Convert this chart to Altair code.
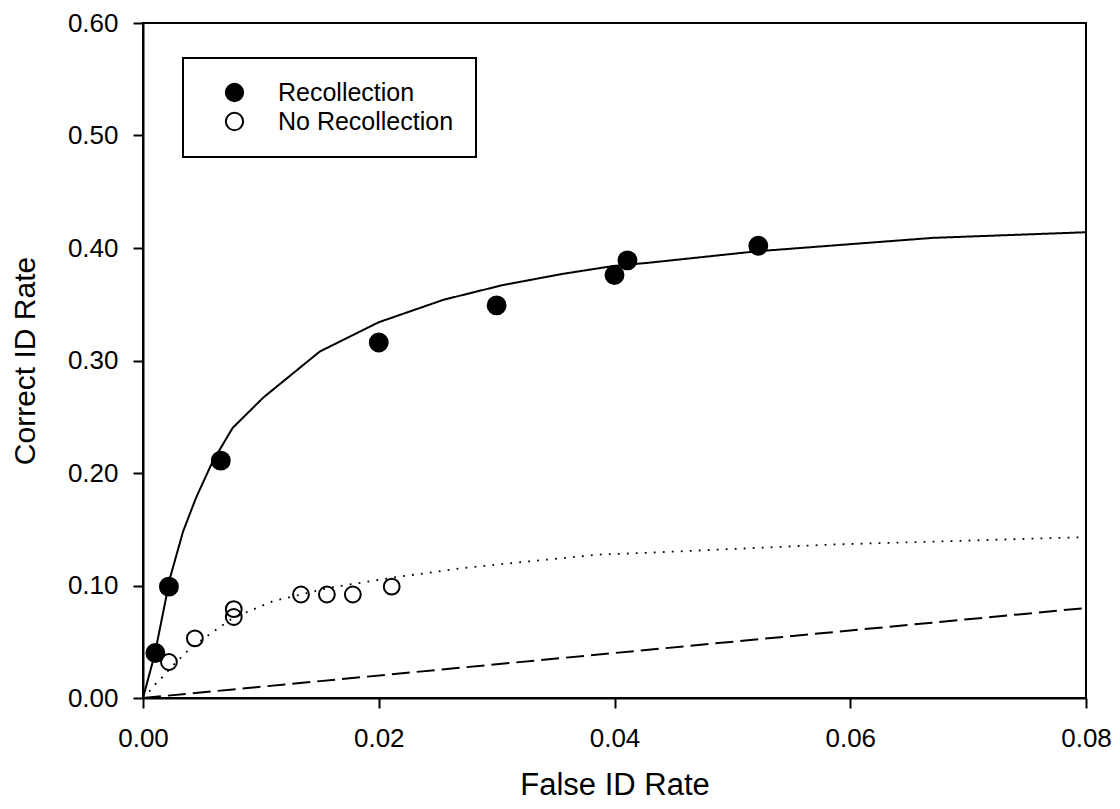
import altair as alt
import pandas as pd

# Observed points
rec_x = [0.00105, 0.0022, 0.0066, 0.0200, 0.0300, 0.0400, 0.0411, 0.0522]
rec_y = [0.040, 0.099, 0.211, 0.316, 0.349, 0.376, 0.389, 0.402]
norec_x = [0.0022, 0.0044, 0.0077, 0.0077, 0.0134, 0.0156, 0.0178, 0.0211]
norec_y = [0.032, 0.053, 0.072, 0.079, 0.092, 0.092, 0.092, 0.099]

# Fitted curves
fit_rec_x = [0, 0.001, 0.0023, 0.0034, 0.0045, 0.0059, 0.0076, 0.0102, 0.015,
             0.020, 0.0255, 0.0305, 0.0356, 0.0399, 0.043, 0.052, 0.067, 0.080]
fit_rec_y = [0, 0.039, 0.107, 0.148, 0.178, 0.210, 0.240, 0.267, 0.308,
             0.334, 0.354, 0.367, 0.377, 0.384, 0.387, 0.397, 0.409, 0.414]
fit_no_x = [0, 0.0006, 0.0011, 0.0018, 0.0024, 0.0037, 0.0045, 0.0076, 0.011,
            0.0158, 0.0212, 0.0271, 0.0328, 0.0387, 0.0426, 0.0585, 0.080]
fit_no_y = [0, 0.0065, 0.013, 0.020, 0.0275, 0.041, 0.048, 0.071, 0.086,
            0.098, 0.107, 0.1155, 0.1215, 0.1275, 0.129, 0.1364, 0.143]
chance_x = [0, 0.08]
chance_y = [0, 0.08]

series_names = ["Recollection", "No Recollection"]
x_ticks = [0, 0.02, 0.04, 0.06, 0.08]
y_ticks = [0, 0.1, 0.2, 0.3, 0.4, 0.5, 0.6]

FONT = "Liberation Sans"

rec_df = pd.DataFrame({"x": rec_x, "y": rec_y, "series": series_names[0]})
norec_df = pd.DataFrame({"x": norec_x, "y": norec_y, "series": series_names[1]})

xs = alt.Scale(domain=[0, 0.08], nice=False, zero=False)
ys = alt.Scale(domain=[0, 0.6], nice=False, zero=False)

xaxis = alt.Axis(values=x_ticks, format=".2f", title="False ID Rate",
                 labelPadding=17, titleFontSize=31, titleX=471.5, titleY=96,
                 titleBaseline="alphabetic", labelFlush=False)
yaxis = alt.Axis(values=y_ticks, format=".2f", title="Correct ID Rate",
                 labelPadding=15, titleFontSize=30, titleX=-108.5, titleY=337.5,
                 titleBaseline="alphabetic", titleAngle=270, labelFlush=False)

fill_enc = alt.Fill(
    "series:N",
    scale=alt.Scale(domain=series_names, range=["black", "transparent"]),
    legend=alt.Legend(title=None, orient="none", legendX=40, legendY=35,
                      symbolType="circle", symbolSize=300,
                      symbolStrokeColor="black", symbolStrokeWidth=2,
                      labelFontSize=25, labelFont=FONT, labelColor="black",
                      labelLimit=400, labelOffset=31, symbolOffset=17, padding=22,
                      strokeColor="black", rowPadding=2),
)


def line_layer(xv, yv, dash, width):
    df = pd.DataFrame({"x": xv, "y": yv, "o": list(range(len(xv)))})
    return alt.Chart(df).mark_line(color="black", strokeWidth=width, strokeDash=dash).encode(
        x=alt.X("x:Q", scale=xs, axis=xaxis),
        y=alt.Y("y:Q", scale=ys, axis=yaxis),
        order="o:Q",
    )


def point_layer(df, size):
    return alt.Chart(df).mark_circle(stroke="black", strokeWidth=2, opacity=1, size=size).encode(
        x=alt.X("x:Q", scale=xs, axis=xaxis),
        y=alt.Y("y:Q", scale=ys, axis=yaxis),
        fill=fill_enc,
    )


solid = line_layer(fit_rec_x, fit_rec_y, [1, 0], 2)
dotted = line_layer(fit_no_x, fit_no_y, [1.8, 7.2], 1.8)
dashed = line_layer(chance_x, chance_y, [18, 7], 2)

rec_pts = point_layer(rec_df, 320)
norec_pts = point_layer(norec_df, 250)

chart = alt.layer(dashed, dotted, solid, norec_pts, rec_pts).properties(
    width=943, height=675,
    autosize=alt.AutoSizeParams(type="none"),
    padding={"left": 135, "top": 15, "right": 26, "bottom": 103},
).configure_view(
    stroke="black", strokeWidth=2
).configure_axis(
    grid=False, domainColor="black", domainWidth=2, tickColor="black", tickWidth=2,
    tickSize=10, labelFont=FONT, labelFontSize=26, labelColor="black",
    titleFont=FONT, titleFontWeight="normal", titleColor="black",
    labelOverlap=False
).configure_legend(
    strokeWidth=2
)

chart.save("out.html", embed_options={"renderer": "svg", "actions": False})
